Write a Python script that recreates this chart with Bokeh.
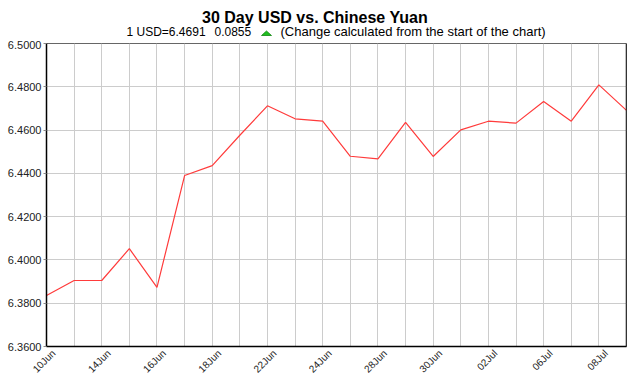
from bokeh.plotting import figure
from bokeh.layouts import column
from bokeh.models import FixedTicker, Span, Range1d
from bokeh.core.properties import value
from bokeh.embed import file_html
from bokeh.resources import INLINE

# ---- data ----
dates = ["10Jun", "11Jun", "14Jun", "15Jun", "16Jun", "17Jun", "18Jun", "21Jun",
         "22Jun", "23Jun", "24Jun", "25Jun", "28Jun", "29Jun", "30Jun", "01Jul",
         "02Jul", "05Jul", "06Jul", "07Jul", "08Jul", "09Jul"]
rates = [6.3836, 6.3905, 6.3905, 6.4052, 6.3873, 6.4390, 6.4436, 6.4576,
         6.4712, 6.4652, 6.4641, 6.4479, 6.4467, 6.4636, 6.4478, 6.4601,
         6.4641, 6.4632, 6.4732, 6.4641, 6.4809, 6.4691]
y_ticks = [6.36, 6.38, 6.40, 6.42, 6.44, 6.46, 6.48, 6.50]
title_text = "30 Day USD vs. Chinese Yuan"
sub_left = "1 USD=6.4691"
sub_change = "0.0855"
sub_right = "(Change calculated from the start of the chart)"

BL, BR, FW, FH = 46, 7, 580, 303
HEAD_H = 40
xs = list(range(len(dates)))

# ---- header (title + subtitle); data coords == page pixels ----
h = figure(frame_width=FW, frame_height=HEAD_H, output_backend="svg", toolbar_location=None,
           x_range=Range1d(BL, BL + FW), y_range=Range1d(HEAD_H, 0),
           x_axis_type=None, y_axis_type=None,
           min_border_left=BL, min_border_right=BR, min_border_top=0, min_border_bottom=0)
h.outline_line_color = None
h.background_fill_color = "white"
h.border_fill_color = "white"

h.text(x=[314.5], y=[17], text=[title_text], text_font=value("Liberation Sans"),
       text_font_style="bold", text_font_size="16px", text_align="center",
       text_baseline="alphabetic", text_color="black")
h.text(x=[126], y=[31], text=[sub_left], text_font=value("Liberation Sans"),
       text_font_size="12px", text_align="left", text_baseline="alphabetic", text_color="black")
h.text(x=[214], y=[31], text=[sub_change], text_font=value("Liberation Sans"),
       text_font_size="12px", text_align="left", text_baseline="alphabetic", text_color="black")
h.text(x=[280], y=[31], text=[sub_right], text_font=value("Liberation Sans"),
       text_font_size="13px", text_align="left", text_baseline="alphabetic", text_color="black")
# up-arrow marker (change is positive)
tri_cx, tri_base, tri_w, tri_h = 266, 35, 10, 4.5
h.patch([tri_cx - tri_w / 2, tri_cx + tri_w / 2, tri_cx], [tri_base, tri_base, tri_base - tri_h],
        fill_color="#1fbf1f", line_color="#118811", line_width=0.8)

# ---- main chart ----
p = figure(frame_width=FW, frame_height=FH, output_backend="svg", toolbar_location=None,
           x_range=Range1d(0, len(dates) - 1), y_range=Range1d(y_ticks[0], y_ticks[-1]),
           min_border_left=BL, min_border_right=BR, min_border_top=43 - HEAD_H, min_border_bottom=30)
p.background_fill_color = "white"
p.border_fill_color = "white"
p.outline_line_color = "#666666"
p.outline_line_width = 1

p.line(xs, rates, line_color="#ff3b3b", line_width=1.2)

# right border in black
p.add_layout(Span(location=len(dates) - 1, dimension="height", line_color="black", line_width=1.5))

# axes
label_shift = 0.26
p.xaxis.ticker = FixedTicker(ticks=[i + label_shift for i in xs if i % 2 == 0])
p.xaxis.major_label_overrides = {i + label_shift: dates[i] for i in xs if i % 2 == 0}
p.xaxis.major_label_orientation = 0.785398
p.yaxis.ticker = FixedTicker(ticks=y_ticks)
p.yaxis.major_label_overrides = {t: f"{t:.4f}" for t in y_ticks}

for ax in (p.xaxis[0], p.yaxis[0]):
    ax.axis_line_color = "black"
    ax.axis_line_width = 1.5
    ax.major_tick_line_color = "#888888"
    ax.major_tick_out = 3
    ax.major_tick_in = 0
    ax.minor_tick_line_color = None
    ax.major_label_text_font = "Liberation Sans"
    ax.major_label_text_color = "#222222"
    ax.major_label_standoff = 2
p.xaxis.major_tick_line_color = None
p.yaxis.major_label_text_font_size = "11px"
p.xaxis.major_label_text_font_size = "10px"

p.xgrid.ticker = FixedTicker(ticks=xs)
p.ygrid.ticker = FixedTicker(ticks=y_ticks)
p.xgrid.grid_line_color = "#cccccc"
p.ygrid.grid_line_color = "#cccccc"

layout = column(h, p, spacing=0)
open("out.html", "w").write(file_html(layout, INLINE))
